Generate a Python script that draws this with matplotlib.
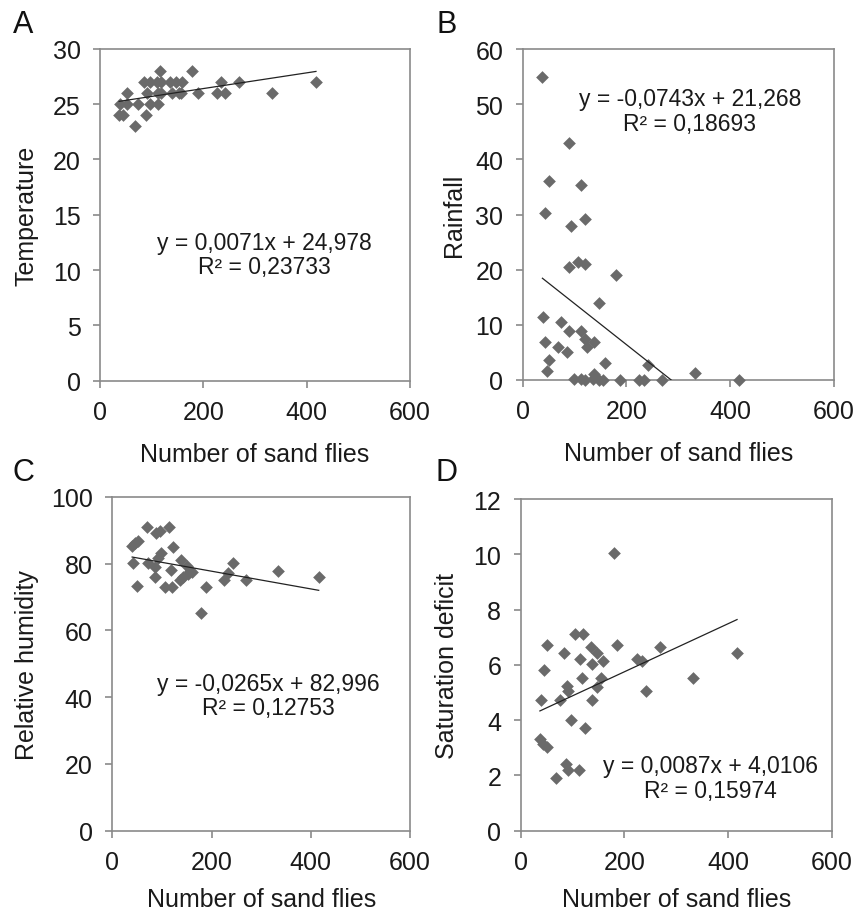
import matplotlib
matplotlib.use("Agg")
import matplotlib.pyplot as plt
import numpy as np

plt.rcParams['font.family'] = ['Liberation Sans', 'DejaVu Sans']

# Panel A - temperature
temp_x = [116, 179, 86, 97, 110, 119, 135, 147, 159, 234, 269, 418,
          52, 90, 113, 119, 139, 152, 157, 189, 226, 242, 333,
          39, 52, 74, 97, 113, 37, 45, 89, 68]
temp_y = [28, 28, 27, 27, 27, 27, 27, 27, 27, 27, 27, 27,
          26, 26, 26, 26, 26, 26, 26, 26, 26, 26, 26,
          25, 25, 25, 25, 25, 24, 24, 24, 23]

# Panel B - rainfall
rain_x = [38, 90, 51, 113, 43, 120, 93, 107, 120, 89, 179, 147, 40, 73, 89,
          112, 120, 43, 138, 69, 123, 85, 51, 158, 242, 46, 333, 138, 99,
          113, 120, 136, 147, 155, 187, 224, 234, 269, 416]
rain_y = [55.0, 43.0, 36.0, 35.4, 30.2, 29.2, 27.9, 21.3, 21.0, 20.4, 19.1,
          13.9, 11.5, 10.6, 8.9, 8.9, 7.4, 6.9, 6.8, 6.0, 5.9, 5.1, 3.6, 3.1,
          2.8, 1.7, 1.2, 1.1, 0.2, 0.2, 0, 0.2, 0, 0, 0, 0, 0, 0, 0]

# Panel C - relative humidity
hum_x = [69, 114, 89, 96, 51, 46, 40, 123, 99, 93, 138, 42, 72, 87, 150,
         244, 118, 156, 143, 136, 153, 161, 234, 86, 226, 269, 49, 107,
         121, 189, 179, 334, 416]
hum_y = [90.8, 90.8, 89.1, 89.8, 86.8, 86.0, 85.1, 85.0, 83.0, 81.6, 81.1,
         80.1, 80.1, 78.9, 79.3, 80.1, 78.1, 77.8, 75.9, 75.1, 76.9, 77.5,
         77.2, 76.0, 75.1, 75.1, 73.4, 73.1, 73.1, 73.1, 65.1, 77.8, 76.0]

# Panel D - saturation deficit
sat_x = [179, 50, 105, 120, 83, 135, 147, 186, 268, 417, 45, 115, 137, 159,
         225, 234, 118, 155, 333, 89, 91, 147, 242, 39, 75, 137, 97, 123,
         37, 43, 50, 88, 92, 112, 68]
sat_y = [10.03, 6.73, 7.13, 7.13, 6.44, 6.65, 6.44, 6.73, 6.65, 6.44, 5.82,
         6.22, 6.02, 6.14, 6.22, 6.14, 5.53, 5.53, 5.53, 5.23, 5.04, 5.20,
         5.04, 4.74, 4.74, 4.74, 4.02, 3.72, 3.32, 3.14, 3.02, 2.42, 2.21,
         2.18, 1.91]

panels = [
    ('A', temp_x, temp_y, 'Temperature', 30, 5, 0.0071, 24.978,
     'y = 0,0071x + 24,978\nR² = 0,23733', (319, 11.4)),
    ('B', rain_x, rain_y, 'Rainfall', 60, 10, -0.0743, 21.268,
     'y = -0,0743x + 21,268\nR² = 0,18693', (322, 48.8)),
    ('C', hum_x, hum_y, 'Relative humidity', 100, 20, -0.0265, 82.996,
     'y = -0,0265x + 82,996\nR² = 0,12753', (314, 40.5)),
    ('D', sat_x, sat_y, 'Saturation deficit', 12, 2, 0.0087, 4.0106,
     'y = 0,0087x + 4,0106\nR² = 0,15974', (366, 1.9)),
]

W, H = 857, 912
fig = plt.figure(figsize=(W / 100, H / 100), dpi=100)

# axes boxes in pixels: left, right, top, bottom
boxes = [(100, 410, 49.7, 381.7), (522.7, 834, 50, 381),
         (112.3, 410, 497.7, 831.7), (520.7, 832, 500, 831.7)]
ylabel_x = [-0.197, -0.182, -0.246, -0.198]
xlabel_y = [-0.185, -0.185, -0.17, -0.17]
letter_pos = [(23, 25), (447, 25), (23, 473), (447, 473)]

grey = '#8a8a8a'
for (letter, xs, ys, ylab, ymax, ystep, m, b, eq, eqpos), box, ylx, xly, lp in zip(
        panels, boxes, ylabel_x, xlabel_y, letter_pos):
    l, r, t, bt = box
    ax = fig.add_axes([l / W, 1 - bt / H, (r - l) / W, (bt - t) / H])
    ax.scatter(xs, ys, marker='D', s=42, color='#6a6a6a', linewidths=0,
               zorder=3, clip_on=False)
    xl = np.array([min(xs), max(xs)])
    ax.plot(xl, m * xl + b, color='#222222', lw=0.9, zorder=4)
    ax.set_xlim(0, 600)
    ax.set_ylim(0, ymax)
    ax.set_xticks(np.arange(0, 601, 200))
    ax.set_yticks(np.arange(0, ymax + 0.1, ystep))
    for s in ax.spines.values():
        s.set_color(grey)
        s.set_linewidth(1.2)
    ax.tick_params(direction='out', length=5, width=1.2, color=grey,
                   labelsize=18, pad=9, labelcolor='#1a1a1a')
    ax.set_xlabel('Number of sand flies', fontsize=18, color='#1a1a1a')
    ax.xaxis.set_label_coords(0.5, xly)
    ax.set_ylabel(ylab, fontsize=18, color='#1a1a1a')
    ax.yaxis.set_label_coords(ylx, 0.5)
    ax.text(eqpos[0], eqpos[1], eq, ha='center', va='center', fontsize=16.5,
            color='#1a1a1a', linespacing=1.1)
    fig.text(lp[0] / W, 1 - lp[1] / H, letter, fontsize=22, ha='center',
             va='center', color='#111111')

fig.savefig('out.png', dpi=100)
